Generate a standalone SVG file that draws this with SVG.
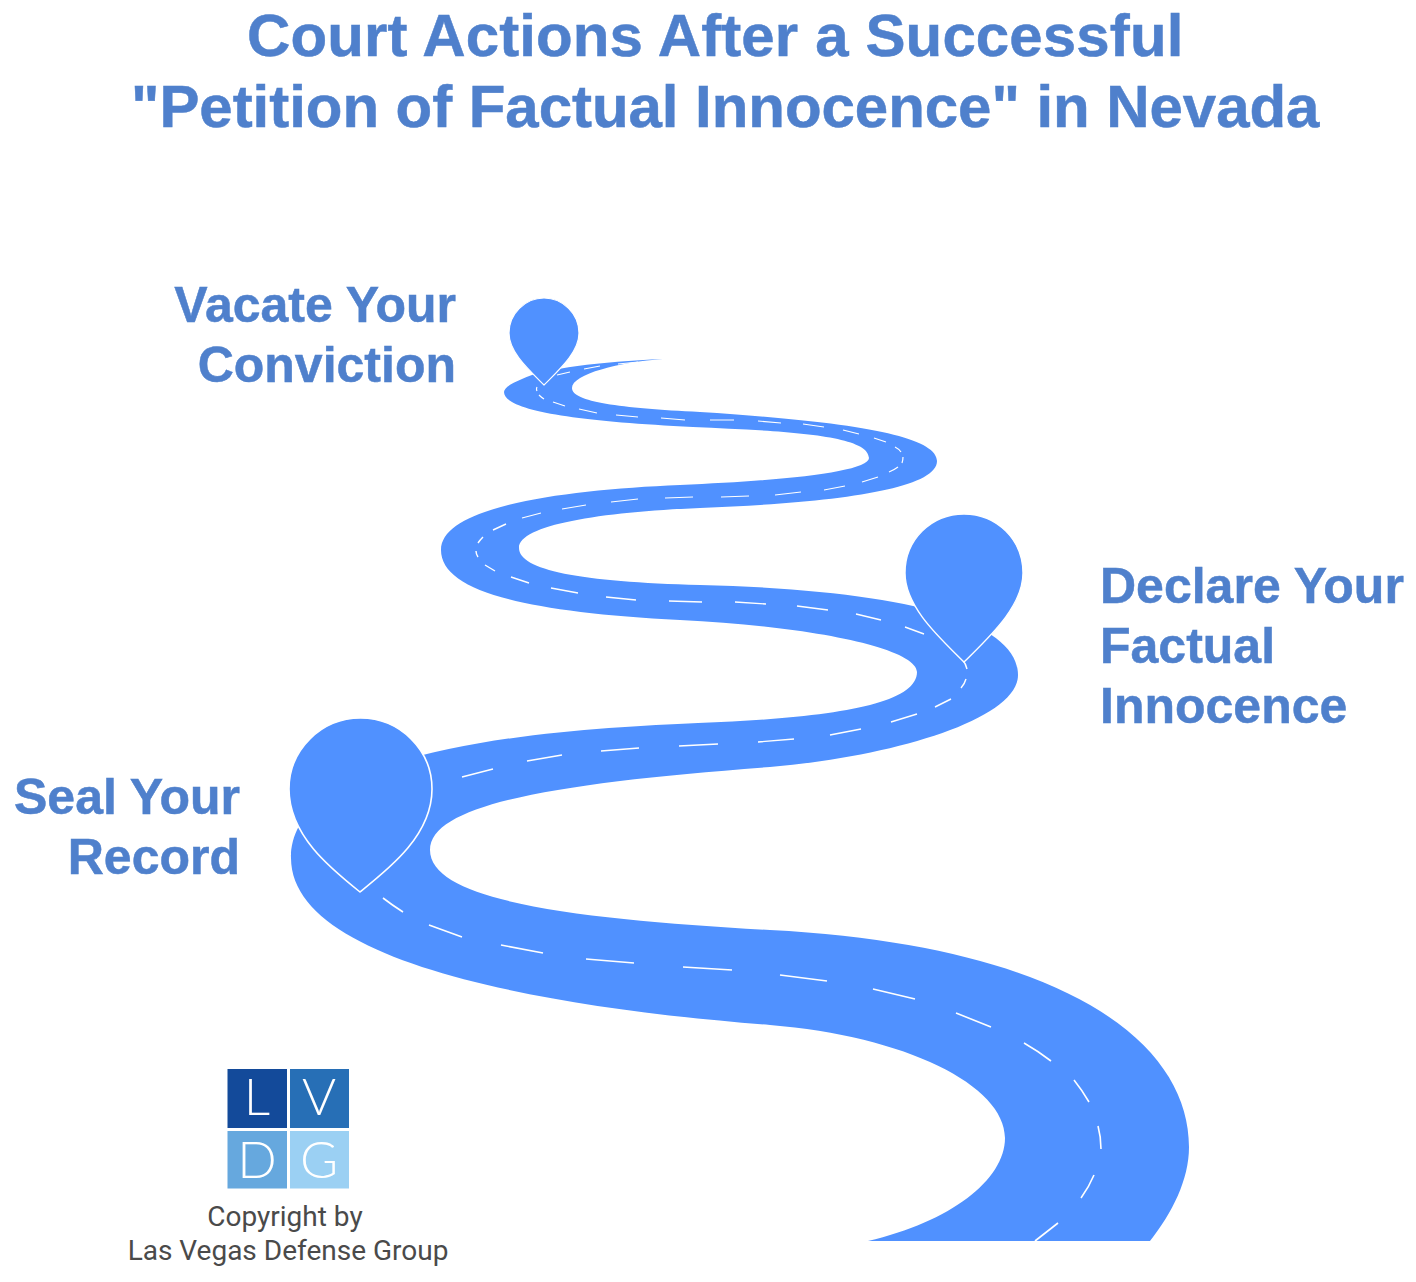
<svg xmlns="http://www.w3.org/2000/svg" width="1416" height="1282" viewBox="0 0 1416 1282">
<style>
.t{font-family:"Liberation Sans",Arial,sans-serif;font-weight:700;fill:#4F80CC;stroke:#4F80CC;stroke-width:.5px}
.title{font-size:60px}
.lab{font-size:50px}
.road{fill:#5091FF}
.dash{fill:none;stroke:#fff;stroke-linecap:butt}
.pin{fill:#5091FF;stroke:#fff;stroke-linejoin:miter}
.lg{font-family:Lato,"Open Sans",sans-serif;font-weight:300;font-size:52px;fill:#fff;text-anchor:middle}
.cp{font-family:Roboto,"Liberation Sans",sans-serif;font-size:28px;fill:#4A4A4A;text-anchor:middle}
</style>
<rect width="1416" height="1282" fill="#fff"/>
<g id="title">
<text class="t title" x="247" y="56" letter-spacing="0.130">Court Actions After a Successful</text>
<text class="t title" x="131" y="127" letter-spacing="-0.050">"Petition of Factual Innocence" in Nevada</text>
</g>
<g id="road">
<path class="road" d="M663 359C600 362 545 368 522 379C510 384 504 388 504 392C504 410 570 421 693 427C780 431 869 434 869 458C869 472 780 481 680 485C560 490 441 507 441 550C441 590 520 612 680 620C810 626 917 648 917 672C917 705 830 718 698 723C560 729 291 745 291 858C291 960 530 1006 770 1025C905 1036 1005 1085 1005 1138C1005 1180 950 1222 868 1241L1150 1241C1172 1213 1189 1180 1189 1147C1189 1040 1060 945 770 930C600 920 430 905 430 850C430 802 570 782 770 767C890 757 1018 720 1018 675C1018 620 900 590 700 585C580 582 519 570 519 548C519 525 600 512 700 508C830 503 937 490 937 461C937 437 860 422 700 412C620 408 572 402 572 388C572 374 620 362 663 359Z"/>
<path class="dash" stroke-width="1.2" d="M618 364L638 362M584 369L600 366M557 375L570 372M537 387Q536 389 537 391M539 395Q541 397 544 399M553 402L565 406M579 409L597 413M616 415L638 417M661 418L685 420M710 420L734 420M758 421L781 423M803 424L824 427M843 430L859 434M874 438L886 442M895 447Q899 449 901 452M903 457Q903 460 902 463M898 467Q894 470 889 472M878 477L862 482M845 486L824 490M801 492L775 495M749 496L721 497M693 497L665 498M638 499L611 502M586 505L562 509M541 513L522 518"/>
<path class="dash" stroke-width="1.4" d="M506 524L493 530M483 537Q480 540 478 543M476 551Q476 554 478 557M485 565L495 571M511 577L529 583M551 588L578 593M606 597L636 600M669 601L702 602M735 602L766 604M797 606L828 610M856 614L881 620M905 627L924 634M962 659Q966 664 967 669M966 679Q965 683 961 688M951 699L935 707M917 714L891 722M861 729L830 735M794 739L758 742M718 744L679 746M639 748L601 751M562 755L527 761M493 769L462 777"/>
<path class="dash" stroke-width="1.6" d="M383 898Q392 905 403 912M429 925L462 937M501 945L543 953M586 959L634 963M683 967L732 970M780 975L827 981M873 989L915 999M956 1013L991 1027M1024 1043Q1038 1051 1051 1061M1074 1080Q1082 1090 1089 1102M1098 1126Q1101 1137 1101 1149M1094 1175Q1089 1187 1081 1198M1058 1223L1035 1241"/>
</g>
<g id="pin-vacate">
<path class="pin" stroke-width="1.2" d="M544 385C528 369 509 352 509 333C509 314 525 298 544 298C563 298 579 314 579 333C579 352 560 369 544 385Z"/>
<text class="t lab" text-anchor="end" x="456" y="322">Vacate Your</text>
<text class="t lab" text-anchor="end" x="456" y="382">Conviction</text>
</g>
<g id="pin-declare">
<path class="pin" stroke-width="1.4" d="M964 662C940 638 905 607 905 573C905 540 931 514 964 514C997 514 1023 540 1023 573C1023 607 988 638 964 662Z"/>
<text class="t lab" x="1100" y="603">Declare Your</text>
<text class="t lab" x="1100" y="663">Factual</text>
<text class="t lab" x="1100" y="723">Innocence</text>
</g>
<g id="pin-seal">
<path class="pin" stroke-width="1.6" d="M360 892C330 868 289 835 289 789C289 750 321 718 360.5 718C400 718 432 750 432 789C432 835 390 868 360 892Z"/>
<text class="t lab" text-anchor="end" x="240" y="814">Seal Your</text>
<text class="t lab" text-anchor="end" x="240" y="874">Record</text>
</g>
<g id="logo">
<rect x="227.500" y="1069" width="59.500" height="59" fill="#134A9A"/>
<rect x="290" y="1069" width="59" height="59" fill="#276FB6"/>
<rect x="227.500" y="1131" width="59.500" height="57.500" fill="#66A8DE"/>
<rect x="290" y="1131" width="59" height="57.500" fill="#9BD0F3"/>
<text class="lg" x="257" y="1115">L</text>
<text class="lg" x="319" y="1115">V</text>
<text class="lg" x="257" y="1178">D</text>
<text class="lg" x="319" y="1178">G</text>
<text class="cp" x="285" y="1226">Copyright by</text>
<text class="cp" x="288" y="1260">Las Vegas Defense Group</text>
</g>
</svg>
